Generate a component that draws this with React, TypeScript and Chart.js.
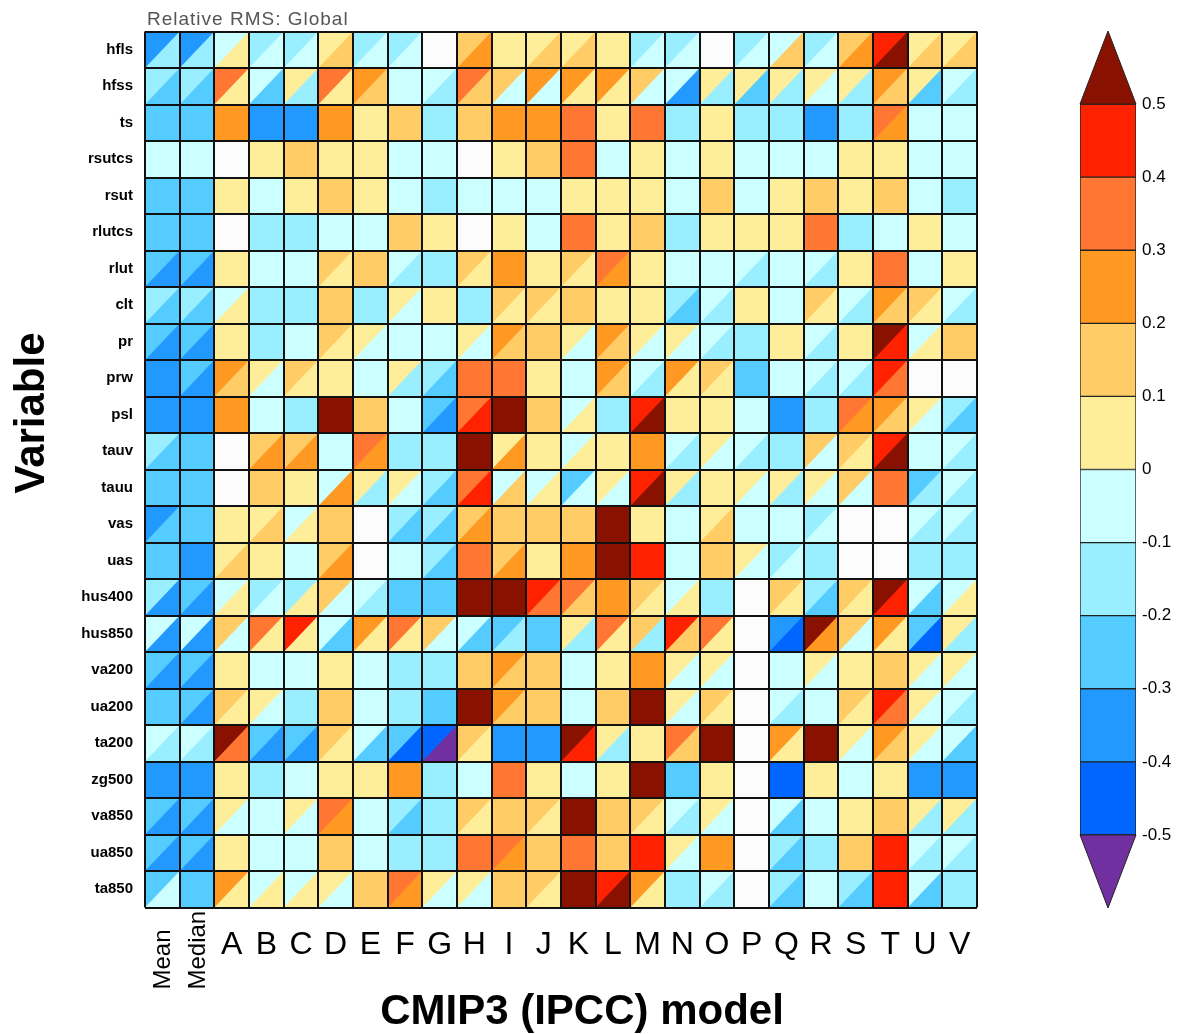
import React, { useEffect, useRef } from 'react';
import { Chart, registerables } from 'chart.js';

Chart.register(...registerables);

const FONT = '"Liberation Sans", Arial, Helvetica, sans-serif';

const models = ['Mean', 'Median', 'A', 'B', 'C', 'D', 'E', 'F', 'G', 'H', 'I', 'J', 'K', 'L', 'M', 'N', 'O', 'P', 'Q', 'R', 'S', 'T', 'U', 'V'];
const variables = ['hfls', 'hfss', 'ts', 'rsutcs', 'rsut', 'rlutcs', 'rlut', 'clt', 'pr', 'prw', 'psl', 'tauv', 'tauu', 'vas', 'uas', 'hus400', 'hus850', 'va200', 'ua200', 'ta200', 'zg500', 'va850', 'ua850', 'ta850'];

// Upper-left (UL) and lower-right (LR) triangle values, per variable, in model order
const hflsUL = [-0.35, -0.35, -0.05, -0.15, -0.15, 0.05, -0.15, -0.15, null, 0.15, 0.05, 0.05, 0.05, 0.05, -0.15, -0.15, null, -0.15, -0.05, -0.15, 0.15, 0.45, 0.05, 0.05];
const hflsLR = [-0.15, -0.15, 0.05, -0.05, -0.05, 0.15, -0.05, -0.05, null, 0.25, 0.05, 0.15, 0.15, 0.05, -0.05, -0.05, null, -0.05, 0.15, -0.05, 0.25, 0.6, 0.15, 0.15];
const hfssUL = [-0.15, -0.15, 0.35, -0.05, 0.05, 0.35, 0.25, -0.05, -0.05, 0.35, 0.15, 0.25, 0.25, 0.25, 0.15, -0.05, 0.05, 0.05, 0.05, 0.05, 0.05, 0.25, 0.05, -0.05];
const hfssLR = [-0.25, -0.25, 0.05, -0.25, -0.15, 0.05, 0.15, -0.05, -0.15, 0.15, -0.05, -0.05, 0.05, 0.05, -0.05, -0.35, -0.15, -0.25, -0.15, -0.05, -0.15, 0.15, -0.25, -0.15];
const tsUL = [-0.25, -0.25, 0.25, -0.35, -0.35, 0.25, 0.05, 0.15, -0.15, 0.15, 0.25, 0.25, 0.35, 0.05, 0.35, -0.15, 0.05, -0.15, -0.15, -0.35, -0.15, 0.35, -0.05, -0.05];
const tsLR = [-0.25, -0.25, 0.25, -0.35, -0.35, 0.25, 0.05, 0.15, -0.15, 0.15, 0.25, 0.25, 0.35, 0.05, 0.35, -0.15, 0.05, -0.15, -0.15, -0.35, -0.15, 0.25, -0.05, -0.05];
const rsutcsUL = [-0.05, -0.05, null, 0.05, 0.15, 0.05, 0.05, -0.05, -0.05, null, 0.05, 0.15, 0.35, -0.05, 0.05, -0.05, 0.05, -0.05, -0.05, -0.05, 0.05, 0.05, -0.05, -0.05];
const rsutcsLR = [-0.05, -0.05, null, 0.05, 0.15, 0.05, 0.05, -0.05, -0.05, null, 0.05, 0.15, 0.35, -0.05, 0.05, -0.05, 0.05, -0.05, -0.05, -0.05, 0.05, 0.05, -0.05, -0.05];
const rsutUL = [-0.25, -0.25, 0.05, -0.05, 0.05, 0.15, 0.05, -0.05, -0.15, -0.05, -0.05, -0.05, 0.05, 0.05, 0.05, -0.05, 0.15, -0.05, 0.05, 0.15, 0.05, 0.15, -0.05, -0.15];
const rsutLR = [-0.25, -0.25, 0.05, -0.05, 0.05, 0.15, 0.05, -0.05, -0.15, -0.05, -0.05, -0.05, 0.05, 0.05, 0.05, -0.05, 0.15, -0.05, 0.05, 0.15, 0.05, 0.15, -0.05, -0.15];
const rlutcsUL = [-0.25, -0.25, null, -0.15, -0.15, -0.05, -0.05, 0.15, 0.05, null, 0.05, -0.05, 0.35, 0.05, 0.15, -0.15, 0.05, 0.05, 0.05, 0.35, -0.15, -0.05, 0.05, -0.05];
const rlutcsLR = [-0.25, -0.25, null, -0.15, -0.15, -0.05, -0.05, 0.15, 0.05, null, 0.05, -0.05, 0.35, 0.05, 0.15, -0.15, 0.05, 0.05, 0.05, 0.35, -0.15, -0.05, 0.05, -0.05];
const rlutUL = [-0.25, -0.25, 0.05, -0.05, -0.05, 0.15, 0.15, -0.05, -0.15, 0.15, 0.25, 0.05, 0.15, 0.35, 0.05, -0.05, -0.05, -0.05, -0.05, -0.05, 0.05, 0.35, -0.05, 0.05];
const rlutLR = [-0.35, -0.35, 0.05, -0.05, -0.05, 0.05, 0.15, -0.15, -0.15, 0.05, 0.25, 0.05, 0.05, 0.25, 0.05, -0.05, -0.05, -0.15, -0.05, -0.15, 0.05, 0.35, -0.05, 0.05];
const cltUL = [-0.15, -0.15, -0.05, -0.15, -0.15, 0.15, -0.15, 0.05, 0.05, -0.15, 0.15, 0.15, 0.15, 0.05, 0.05, -0.15, -0.05, 0.05, -0.05, 0.15, -0.05, 0.25, 0.15, -0.05];
const cltLR = [-0.25, -0.25, 0.05, -0.15, -0.15, 0.15, -0.15, -0.05, 0.05, -0.15, 0.05, 0.05, 0.15, 0.05, 0.05, -0.25, -0.15, 0.05, -0.05, 0.05, -0.15, 0.15, 0.05, -0.15];
const prUL = [-0.25, -0.25, 0.05, -0.15, -0.05, 0.15, 0.05, -0.05, -0.05, 0.05, 0.25, 0.15, 0.05, 0.25, 0.05, 0.05, -0.05, -0.15, 0.05, -0.05, 0.05, 0.6, -0.05, 0.15];
const prLR = [-0.35, -0.35, 0.05, -0.15, -0.05, 0.05, -0.05, -0.05, -0.05, -0.05, 0.15, 0.15, -0.05, 0.15, -0.05, -0.05, -0.15, -0.15, 0.05, -0.15, 0.05, 0.45, 0.05, 0.15];
const prwUL = [-0.35, -0.25, 0.25, 0.05, 0.15, 0.05, -0.05, 0.05, -0.15, 0.35, 0.35, 0.05, -0.05, 0.25, -0.05, 0.25, 0.15, -0.25, -0.05, -0.05, -0.05, 0.45, null, null];
const prwLR = [-0.35, -0.35, 0.15, -0.05, 0.05, 0.05, -0.05, -0.15, -0.25, 0.35, 0.35, 0.05, -0.05, 0.15, -0.15, 0.05, 0.05, -0.25, -0.05, -0.15, -0.15, 0.35, null, null];
const pslUL = [-0.35, -0.35, 0.25, -0.05, -0.15, 0.6, 0.15, -0.05, -0.25, 0.35, 0.6, 0.15, -0.05, -0.15, 0.45, 0.05, 0.05, -0.05, -0.35, -0.15, 0.35, 0.25, 0.05, -0.15];
const pslLR = [-0.35, -0.35, 0.25, -0.05, -0.15, 0.6, 0.15, -0.05, -0.35, 0.45, 0.6, 0.15, 0.05, -0.15, 0.6, 0.05, 0.05, -0.05, -0.35, -0.15, 0.25, 0.15, -0.05, -0.25];
const tauvUL = [-0.15, -0.25, null, 0.15, 0.15, -0.05, 0.35, -0.15, -0.15, 0.6, 0.05, 0.05, -0.05, 0.05, 0.25, -0.05, 0.05, -0.05, -0.15, 0.15, 0.15, 0.45, -0.05, -0.05];
const tauvLR = [-0.25, -0.25, null, 0.25, 0.25, -0.05, 0.25, -0.15, -0.15, 0.6, 0.25, 0.05, 0.05, 0.05, 0.25, -0.15, -0.05, -0.15, -0.15, -0.05, 0.05, 0.6, -0.05, -0.15];
const tauuUL = [-0.25, -0.25, null, 0.15, 0.05, -0.05, 0.05, 0.05, -0.15, 0.35, -0.05, -0.05, -0.25, 0.05, 0.45, 0.05, 0.05, 0.05, 0.05, 0.05, 0.15, 0.35, -0.25, -0.05];
const tauuLR = [-0.25, -0.25, null, 0.15, 0.05, 0.25, -0.15, -0.05, -0.25, 0.45, 0.15, 0.05, -0.05, -0.05, 0.6, -0.15, 0.05, -0.05, -0.15, -0.05, -0.05, 0.35, -0.15, -0.15];
const vasUL = [-0.35, -0.25, 0.05, 0.05, -0.05, 0.15, null, -0.15, -0.15, 0.15, 0.15, 0.15, 0.15, 0.6, 0.05, -0.05, 0.05, -0.05, -0.05, -0.15, null, null, -0.05, -0.05];
const vasLR = [-0.25, -0.25, 0.05, 0.15, 0.05, 0.15, null, -0.25, -0.25, 0.25, 0.15, 0.15, 0.15, 0.6, 0.05, -0.05, 0.15, -0.05, -0.05, -0.05, null, null, -0.15, -0.15];
const uasUL = [-0.25, -0.35, 0.05, 0.05, -0.05, 0.15, null, -0.05, -0.15, 0.35, 0.15, 0.05, 0.25, 0.6, 0.45, -0.05, 0.15, 0.05, -0.15, -0.15, null, null, -0.15, -0.15];
const uasLR = [-0.25, -0.35, 0.15, 0.05, -0.05, 0.25, null, -0.05, -0.25, 0.35, 0.25, 0.05, 0.25, 0.6, 0.45, -0.05, 0.15, -0.05, -0.05, -0.15, null, null, -0.15, -0.15];
const hus400UL = [-0.15, -0.25, -0.05, -0.15, -0.15, 0.15, -0.05, -0.25, -0.25, 0.6, 0.6, 0.45, 0.35, 0.25, 0.15, -0.05, -0.15, null, 0.15, -0.15, 0.15, 0.6, -0.05, -0.05];
const hus400LR = [-0.35, -0.35, 0.05, -0.05, 0.05, -0.05, -0.15, -0.25, -0.25, 0.6, 0.6, 0.35, 0.15, 0.25, 0.05, 0.05, -0.15, null, 0.05, -0.25, 0.05, 0.45, -0.25, 0.05];
const hus850UL = [-0.05, -0.05, 0.15, 0.35, 0.45, -0.05, 0.25, 0.35, 0.15, -0.05, -0.25, -0.25, 0.05, 0.35, 0.15, 0.45, 0.35, null, -0.35, 0.6, 0.15, 0.25, -0.25, 0.05];
const hus850LR = [-0.35, -0.35, -0.05, 0.05, 0.05, -0.25, 0.05, 0.05, -0.05, -0.25, -0.15, -0.25, -0.15, 0.05, -0.15, 0.15, 0.05, null, -0.45, 0.25, -0.05, 0.05, -0.45, -0.15];
const va200UL = [-0.25, -0.25, 0.05, -0.05, -0.05, 0.05, -0.05, -0.15, -0.15, 0.15, 0.25, 0.15, -0.05, 0.05, 0.25, 0.05, 0.05, null, -0.05, 0.05, 0.05, 0.15, 0.05, 0.05];
const va200LR = [-0.35, -0.35, 0.05, -0.05, -0.05, 0.05, -0.05, -0.15, -0.15, 0.15, 0.15, 0.15, -0.05, 0.05, 0.25, -0.05, -0.05, null, -0.05, -0.05, 0.05, 0.15, -0.05, -0.05];
const ua200UL = [-0.25, -0.25, 0.15, 0.05, -0.15, 0.15, -0.05, -0.15, -0.25, 0.6, 0.25, 0.15, -0.05, 0.15, 0.6, 0.05, 0.15, null, -0.05, -0.05, 0.15, 0.45, 0.05, -0.05];
const ua200LR = [-0.25, -0.35, 0.05, -0.05, -0.15, 0.15, -0.05, -0.15, -0.25, 0.6, 0.15, 0.15, -0.05, 0.15, 0.6, -0.05, 0.05, null, -0.15, -0.05, 0.05, 0.35, -0.05, -0.15];
const ta200UL = [-0.05, -0.05, 0.6, -0.25, -0.25, 0.15, -0.05, -0.25, -0.45, 0.15, -0.35, -0.35, 0.6, 0.05, 0.05, 0.35, 0.6, null, 0.25, 0.6, 0.05, 0.25, 0.05, -0.05];
const ta200LR = [-0.15, -0.15, 0.35, -0.35, -0.35, 0.05, -0.25, -0.45, -0.6, 0.05, -0.35, -0.35, 0.45, -0.15, 0.05, 0.15, 0.6, null, 0.05, 0.6, -0.05, 0.15, -0.05, -0.25];
const zg500UL = [-0.35, -0.35, 0.05, -0.15, -0.05, 0.05, 0.05, 0.25, -0.15, -0.05, 0.35, 0.05, -0.05, 0.05, 0.6, -0.25, 0.05, null, -0.45, 0.05, -0.05, 0.05, -0.35, -0.35];
const zg500LR = [-0.35, -0.35, 0.05, -0.15, -0.05, 0.05, 0.05, 0.25, -0.15, -0.05, 0.35, 0.05, -0.05, 0.05, 0.6, -0.25, 0.05, null, -0.45, 0.05, -0.05, 0.05, -0.35, -0.35];
const va850UL = [-0.25, -0.25, 0.05, -0.05, 0.05, 0.35, -0.05, -0.15, -0.15, 0.15, 0.15, 0.15, 0.6, 0.15, 0.15, -0.05, 0.05, null, -0.05, -0.05, 0.05, 0.15, 0.05, 0.05];
const va850LR = [-0.35, -0.35, -0.05, -0.05, -0.05, 0.25, -0.05, -0.25, -0.15, 0.05, 0.15, 0.05, 0.6, 0.15, 0.05, -0.15, -0.05, null, -0.25, -0.05, 0.05, 0.15, -0.15, -0.15];
const ua850UL = [-0.25, -0.25, 0.05, -0.05, -0.05, 0.15, -0.05, -0.15, -0.15, 0.35, 0.35, 0.15, 0.35, 0.15, 0.45, 0.05, 0.25, null, -0.15, -0.15, 0.15, 0.45, -0.05, -0.05];
const ua850LR = [-0.35, -0.35, 0.05, -0.05, -0.05, 0.15, -0.05, -0.15, -0.15, 0.35, 0.25, 0.15, 0.35, 0.15, 0.45, -0.05, 0.25, null, -0.25, -0.15, 0.15, 0.45, -0.15, -0.15];
const ta850UL = [-0.25, -0.25, 0.25, -0.05, -0.05, 0.05, 0.15, 0.35, 0.05, 0.05, 0.15, 0.15, 0.6, 0.45, 0.25, -0.15, -0.05, null, -0.15, -0.05, -0.15, 0.45, -0.05, -0.15];
const ta850LR = [-0.05, -0.25, 0.05, 0.05, 0.05, -0.05, 0.15, 0.25, -0.05, -0.05, 0.15, 0.05, 0.6, 0.6, 0.05, -0.15, -0.15, null, -0.25, -0.05, -0.25, 0.45, -0.25, -0.15];

const upperLeftRows = [hflsUL, hfssUL, tsUL, rsutcsUL, rsutUL, rlutcsUL, rlutUL, cltUL, prUL, prwUL, pslUL, tauvUL, tauuUL, vasUL, uasUL, hus400UL, hus850UL, va200UL, ua200UL, ta200UL, zg500UL, va850UL, ua850UL, ta850UL];
const lowerRightRows = [hflsLR, hfssLR, tsLR, rsutcsLR, rsutLR, rlutcsLR, rlutLR, cltLR, prLR, prwLR, pslLR, tauvLR, tauuLR, vasLR, uasLR, hus400LR, hus850LR, va200LR, ua200LR, ta200LR, zg500LR, va850LR, ua850LR, ta850LR];

// Colour levels
const levelBounds = [-0.5, -0.4, -0.3, -0.2, -0.1, 0, 0.1, 0.2, 0.3, 0.4, 0.5];
const levelColors = ['#7030A0', '#0066FF', '#2299FF', '#55CCFF', '#99EEFF', '#CCFFFF', '#FFEE99', '#FFCC66', '#FF9922', '#FF7733', '#FF2200', '#881100'];
const colorbarTicks = [-0.5, -0.4, -0.3, -0.2, -0.1, 0, 0.1, 0.2, 0.3, 0.4, 0.5];

const MISSING = '#FCFCFC';

function colorFor(v: number | null): string {
  if (v === null || v === undefined) return MISSING;
  let i = 0;
  while (i < levelBounds.length && v >= levelBounds[i]) i++;
  return levelColors[i];
}

function buildPoints(rows: (number | null)[][]) {
  const pts: any[] = [];
  variables.forEach((vn, j) => {
    models.forEach((m, i) => {
      pts.push({ x: m, y: vn, v: rows[j][i] });
    });
  });
  return pts;
}

const cellPlugin = {
  id: 'splitCells',
  beforeDatasetsDraw(chart: any) {
    const { ctx, chartArea } = chart;
    const cw = chartArea.width / models.length;
    const ch = chartArea.height / variables.length;
    ctx.save();
    // lower-right dataset (index 1): fill whole cell
    const metaLR = chart.getDatasetMeta(1);
    metaLR.data.forEach((el: any, k: number) => {
      const raw = chart.data.datasets[1].data[k];
      ctx.fillStyle = colorFor(raw.v);
      ctx.fillRect(el.x - cw / 2, el.y - ch / 2, cw, ch);
    });
    // upper-left dataset (index 0): triangle
    const metaUL = chart.getDatasetMeta(0);
    metaUL.data.forEach((el: any, k: number) => {
      const raw = chart.data.datasets[0].data[k];
      const L = el.x - cw / 2, R = el.x + cw / 2, T = el.y - ch / 2, B = el.y + ch / 2;
      ctx.beginPath();
      ctx.moveTo(L, T);
      ctx.lineTo(R, T);
      ctx.lineTo(L, B);
      ctx.closePath();
      ctx.fillStyle = colorFor(raw.v);
      ctx.fill();
    });
    // grid
    ctx.strokeStyle = '#111';
    ctx.lineWidth = 2;
    ctx.beginPath();
    for (let i = 0; i <= models.length; i++) {
      const px = Math.round(chartArea.left + i * cw);
      ctx.moveTo(px, chartArea.top);
      ctx.lineTo(px, chartArea.bottom);
    }
    for (let j = 0; j <= variables.length; j++) {
      const py = Math.round(chartArea.top + j * ch);
      ctx.moveTo(chartArea.left, py);
      ctx.lineTo(chartArea.right, py);
    }
    ctx.stroke();
    ctx.restore();
  },
  afterDraw(chart: any) {
    const { ctx, chartArea, scales } = chart;
    const x = scales.x, y = scales.y;
    ctx.save();
    // title
    ctx.fillStyle = '#555';
    ctx.font = `19px ${FONT}`;
    ctx.textAlign = 'left';
    ctx.textBaseline = 'alphabetic';
    try { (ctx as any).letterSpacing = '1px'; } catch (e) { /* ignore */ }
    ctx.fillText('Relative RMS: Global', chartArea.left + 2, chartArea.top - 7);
    try { (ctx as any).letterSpacing = '0px'; } catch (e) { /* ignore */ }
    // row labels
    ctx.fillStyle = '#000';
    ctx.font = `bold 15px ${FONT}`;
    ctx.textAlign = 'right';
    ctx.textBaseline = 'middle';
    variables.forEach((vn, j) => {
      ctx.fillText(vn, chartArea.left - 12, y.getPixelForValue(j));
    });
    // column labels
    models.forEach((m, i) => {
      const px = x.getPixelForValue(i);
      if (m.length > 1) {
        ctx.save();
        ctx.translate(px + 1, chartArea.bottom + 82);
        ctx.rotate(-Math.PI / 2);
        ctx.font = `24px ${FONT}`;
        ctx.textAlign = 'left';
        ctx.textBaseline = 'middle';
        ctx.fillText(m, 0, 0);
        ctx.restore();
      } else {
        ctx.font = `32px ${FONT}`;
        ctx.textAlign = 'center';
        ctx.textBaseline = 'middle';
        ctx.fillText(m, px, chartArea.bottom + 38);
      }
    });
    // axis titles
    ctx.save();
    ctx.translate(32, 413);
    ctx.rotate(-Math.PI / 2);
    ctx.font = `bold 42px ${FONT}`;
    ctx.textAlign = 'center';
    ctx.textBaseline = 'middle';
    ctx.fillText('Variable', 0, 0);
    ctx.restore();
    ctx.font = `bold 42px ${FONT}`;
    ctx.textAlign = 'center';
    ctx.textBaseline = 'middle';
    ctx.fillText('CMIP3 (IPCC) model', 582, 1012);
    ctx.restore();
  },
};

const colorbarPlugin = {
  id: 'colorbarEnds',
  afterDatasetsDraw(chart: any) {
    const { ctx, chartArea, scales } = chart;
    const y = scales.y;
    const L = chartArea.left, R = chartArea.right, C = (L + R) / 2;
    ctx.save();
    ctx.lineWidth = 1;
    ctx.strokeStyle = '#222';
    // top (> 0.5)
    ctx.beginPath();
    ctx.moveTo(L, y.getPixelForValue(levelBounds[levelBounds.length - 1]));
    ctx.lineTo(R, y.getPixelForValue(levelBounds[levelBounds.length - 1]));
    ctx.lineTo(C, y.getPixelForValue(y.max));
    ctx.closePath();
    ctx.fillStyle = levelColors[levelColors.length - 1];
    ctx.fill();
    ctx.stroke();
    // bottom (< -0.5)
    ctx.beginPath();
    ctx.moveTo(L, y.getPixelForValue(levelBounds[0]));
    ctx.lineTo(R, y.getPixelForValue(levelBounds[0]));
    ctx.lineTo(C, y.getPixelForValue(y.min));
    ctx.closePath();
    ctx.fillStyle = levelColors[0];
    ctx.fill();
    ctx.stroke();
    ctx.restore();
  },
};

export default function App() {
  const mainRef = useRef<HTMLCanvasElement>(null);
  const barRef = useRef<HTMLCanvasElement>(null);

  useEffect(() => {
    const main = new Chart(mainRef.current as HTMLCanvasElement, {
      type: 'scatter',
      data: {
        datasets: [
          { label: 'upper-left', data: buildPoints(upperLeftRows), pointRadius: 0, pointHoverRadius: 0 },
          { label: 'lower-right', data: buildPoints(lowerRightRows), pointRadius: 0, pointHoverRadius: 0 },
        ],
      } as any,
      options: {
        animation: false,
        responsive: false,
        maintainAspectRatio: false,
        events: [],
        layout: { padding: { left: 145, right: 219, top: 31.5, bottom: 126.5 } },
        plugins: { legend: { display: false }, tooltip: { enabled: false } },
        scales: {
          x: { type: 'category', labels: models, offset: true, display: false },
          y: { type: 'category', labels: variables, offset: true, display: false },
        },
      } as any,
      plugins: [cellPlugin],
    });

    const segs = levelColors.slice(1, levelColors.length - 1);
    const bar = new Chart(barRef.current as HTMLCanvasElement, {
      type: 'bar',
      data: {
        labels: ['scale'],
        datasets: segs.map((c, i) => ({
          label: `${levelBounds[i]}`,
          data: [[levelBounds[i], levelBounds[i + 1]]],
          backgroundColor: c,
          borderColor: '#222',
          borderWidth: 1,
          borderSkipped: false,
          grouped: false,
          barPercentage: 1,
          categoryPercentage: 1,
        })),
      } as any,
      options: {
        animation: false,
        responsive: false,
        maintainAspectRatio: false,
        events: [],
        layout: { padding: { left: 40, right: 0, top: 31, bottom: 126 } },
        plugins: { legend: { display: false }, tooltip: { enabled: false } },
        scales: {
          x: { display: false },
          y: {
            position: 'right',
            min: -0.6,
            max: 0.6,
            grid: { display: false, drawTicks: false },
            border: { display: false },
            afterBuildTicks: (s: any) => {
              s.ticks = colorbarTicks.map((v) => ({ value: v }));
            },
            afterFit: (s: any) => {
              s.width = 60;
            },
            ticks: {
              padding: 6,
              color: '#000',
              font: { family: FONT, size: 17 },
              callback: (v: any) => `${Math.round(Number(v) * 10) / 10}`,
            },
          },
        },
      } as any,
      plugins: [colorbarPlugin],
    });

    return () => {
      main.destroy();
      bar.destroy();
    };
  }, []);

  return (
    <div style={{ position: 'absolute', left: 0, top: 0, width: 1196, height: 1034, background: '#fff' }}>
      <canvas ref={mainRef} width={1196} height={1034} style={{ position: 'absolute', left: 0, top: 0, width: 1196, height: 1034 }} />
      <canvas ref={barRef} width={156} height={1034} style={{ position: 'absolute', left: 1040, top: 0, width: 156, height: 1034 }} />
    </div>
  );
}
